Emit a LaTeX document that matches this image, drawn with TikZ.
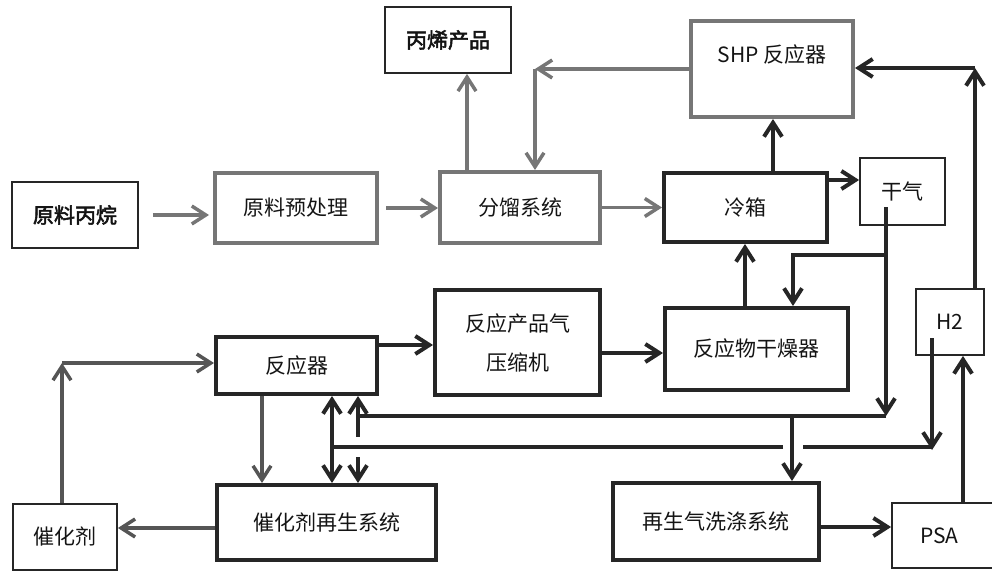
\documentclass[tikz,border=0pt]{standalone}
\usepackage{fontspec}
\setmainfont{Noto Sans CJK SC}
\newfontfamily\boldcjk[FakeBold=2.5]{Noto Sans CJK SC}
\usetikzlibrary{arrows.meta}
\definecolor{gcol}{HTML}{767676}
\definecolor{dcol}{HTML}{555555}
\definecolor{kcol}{HTML}{262626}
\begin{document}
\begin{tikzpicture}[x=1pt,y=-1pt,
  >={Straight Barb[length=14pt,width=18pt]},
  every node/.style={inner sep=0pt},
  basebox/.style={rectangle, font=\fontsize{21}{39}\selectfont, align=center, text=black!92},
  thinbox/.style={basebox, draw=kcol, line width=1.8pt},
  graybox/.style={basebox, draw=gcol, line width=4pt},
  blackbox/.style={basebox, draw=kcol, line width=4pt},
  garrow/.style={draw=gcol, line width=3.5pt, ->},
  darrow/.style={draw=dcol, line width=3.5pt, ->},
  karrow/.style={draw=kcol, line width=4pt, ->},
  kdouble/.style={draw=kcol, line width=4pt, <->},
  kpath/.style={draw=kcol, line width=4pt},
]
\useasboundingbox (0,0) rectangle (992,572);

% boxes
\node[thinbox, minimum width=126pt, minimum height=66pt] (feed) at (75,215) {\boldcjk 原料丙烷};
\node[graybox, minimum width=162pt, minimum height=70pt] (pre) at (296,208) {原料预处理};
\node[graybox, minimum width=160pt, minimum height=71pt] (frac) at (520,207.5) {分馏系统};
\node[blackbox, minimum width=163pt, minimum height=69pt] (cold) at (745.5,207.5) {冷箱};
\node[thinbox, minimum width=85pt, minimum height=67pt] (dry) at (902.5,191.5) {干气};
\node[graybox, minimum width=162pt, minimum height=96pt] (shp) at (772,69) {\raisebox{14pt}[\height][\depth]{SHP 反应器}};
\node[thinbox, minimum width=126pt, minimum height=66pt] (prod) at (448,40) {\boldcjk 丙烯产品};
\node[blackbox, minimum width=161pt, minimum height=57pt] (reactor) at (296.5,365.5) {反应器};
\node[blackbox, minimum width=165pt, minimum height=105pt] (comp) at (517.5,342.5) {反应产品气\\压缩机};
\node[blackbox, minimum width=183pt, minimum height=82pt] (dryer) at (756.5,349) {反应物干燥器};
\node[thinbox, minimum width=68pt, minimum height=66pt] (h2) at (950,322) {H2};
\node[blackbox, minimum width=219pt, minimum height=75pt] (regen) at (326.5,522.5) {催化剂再生系统};
\node[thinbox, minimum width=104pt, minimum height=66pt] (cat) at (65,537) {催化剂};
\node[blackbox, minimum width=206pt, minimum height=77pt] (wash) at (716,521.5) {再生气洗涤系统};
\node[thinbox, minimum width=103pt, minimum height=65pt] (psa) at (943.5,535.5) {\hspace*{-8pt}PSA};

% helper coordinates
\coordinate (x467) at (467,0);
\coordinate (x262) at (262,0);
\coordinate (x773) at (773,0);
\coordinate (x745) at (745,0);
\coordinate (x963) at (963,0);
\coordinate (y528) at (0,528);
\coordinate (y180) at (0,180);
\coordinate (y345) at (0,345);
\coordinate (y353) at (0,353);
\coordinate (y527) at (0,527);
\coordinate (c535) at (535,69);
\coordinate (c975) at (975,68);
\coordinate (c62) at (62,363);
\coordinate (d0) at (886,207);
\coordinate (j416) at (886,416);
\coordinate (b255) at (886,255);
\coordinate (b793) at (793,255);
\coordinate (r358) at (358,416);
\coordinate (r358a) at (358,437);
\coordinate (r358b) at (358,457);
\coordinate (h0) at (932,338);
\coordinate (h447) at (932,450);
\coordinate (l332) at (332,447);
\coordinate (g783) at (783,447);
\coordinate (g803) at (803,447);
\coordinate (e933) at (932,447);
\coordinate (w792) at (792,416);

% gray connectors
\draw[garrow, shorten <=14pt, shorten >=4pt] (feed.east) -- (feed.east -| pre.west);
\draw[garrow, shorten <=7pt] (pre.east) -- (pre.east -| frac.west);
\draw[garrow] (frac.east) -- (frac.east -| cold.west);
\draw[garrow] (frac.north -| x467) -- (prod.south -| x467);
\draw[garrow] (shp.west |- c535) -- (c535);
\draw[garrow] (c535) -- (c535 |- frac.north);
\draw[darrow] (reactor.south -| x262) -- (regen.north -| x262);
\draw[darrow] (regen.west |- y528) -- (cat.east |- y528);
\draw[darrow] (cat.north -| c62) -- (c62);
\draw[darrow] (c62) -- (c62 -| reactor.west);

% black connectors
\draw[karrow] (cold.north -| x773) -- (shp.south -| x773);
\draw[karrow] (cold.east |- y180) -- (dry.west |- y180);
\draw[karrow] (d0) -- (j416);
\draw[karrow] (b255) -- (b793) -- (b793 |- dryer.north);
\draw[karrow] (dryer.north -| x745) -- (cold.south -| x745);
\draw[kpath] (j416) -- (r358);
\draw[karrow] (r358) -- (r358 |- reactor.south);
\draw[kpath] (r358) -- (r358a);
\draw[karrow] (r358b) -- (r358b |- regen.north);
\draw[karrow] (h0) -- (h447);
\draw[kpath] (e933) -- (g803);
\draw[kpath] (g783) -- (l332);
\draw[kdouble] (l332 |- reactor.south) -- (l332 |- regen.north);
\draw[karrow] (w792) -- (w792 |- wash.north);
\draw[karrow] (psa.north -| x963) -- (h2.south -| x963);
\draw[karrow] (h2.north -| c975) -- (c975);
\draw[karrow] (c975) -- (c975 -| shp.east);
\draw[karrow] (reactor.east |- y345) -- (comp.west |- y345);
\draw[karrow] (comp.east |- y353) -- (dryer.west |- y353);
\draw[karrow] (wash.east |- y527) -- (psa.west |- y527);
\end{tikzpicture}
\end{document}
